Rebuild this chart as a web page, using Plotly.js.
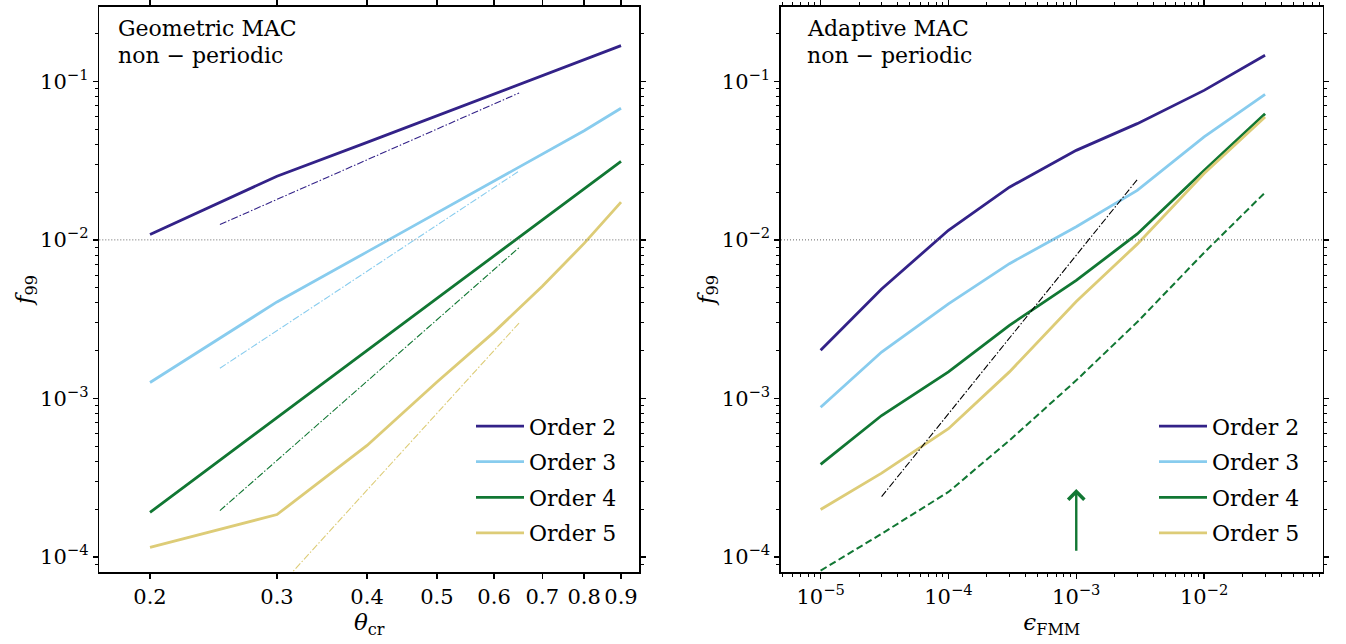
<!DOCTYPE html>
<html><head><meta charset="utf-8">
<script src="https://cdn.plot.ly/plotly-3.0.1.min.js"></script>
<style>html,body{margin:0;padding:0;background:#fff}#chart{width:1346px;height:644px}</style>
</head><body><div id="chart"></div>
<script>
// ---------- data ----------
const thetaCr = [0.2, 0.3, 0.4, 0.5, 0.6, 0.7, 0.8, 0.9];
const geoOrder2 = [0.0108, 0.0252, 0.0412, 0.0605, 0.0832, 0.108, 0.137, 0.168];
const geoOrder3 = [0.00126, 0.00406, 0.0084, 0.0148, 0.0236, 0.0348, 0.0488, 0.0676];
const geoOrder4 = [0.000191, 0.00076, 0.00201, 0.00428, 0.00792, 0.0133, 0.021, 0.0313];
const geoOrder5 = [0.000115, 0.000185, 0.000505, 0.00127, 0.00262, 0.0051, 0.0095, 0.0173];
const refTheta = [0.25, 0.65];
const refGeo2 = [0.0125, 0.0845];
const refGeo3 = [0.00155, 0.0272];
const refGeo4 = [0.000196, 0.00895];
const refGeo5 = [0.0000252, 0.00299];

const epsFMM = [1e-5, 3e-5, 1e-4, 3e-4, 1e-3, 3e-3, 1e-2, 3e-2];
const adOrder2 = [0.00201, 0.0049, 0.0115, 0.0215, 0.0367, 0.0541, 0.0877, 0.146];
const adOrder3 = [0.00088, 0.00196, 0.00395, 0.00708, 0.0121, 0.0205, 0.0446, 0.0828];
const adOrder4 = [0.000384, 0.00078, 0.00147, 0.00289, 0.00555, 0.0109, 0.0274, 0.0625];
const adOrder5 = [0.000199, 0.000338, 0.000644, 0.00147, 0.00409, 0.0094, 0.0262, 0.0596];
const adOrder4Dashed = [0.000082, 0.00014, 0.000257, 0.000543, 0.0013, 0.00303, 0.0083, 0.0199];
const refEps = [3e-5, 3e-3];
const refEpsVals = [0.00024, 0.024];
const arrowEps = 1e-3, arrowFrom = 0.000107, arrowTo = 0.000268;
const threshold = 0.01;

const seriesNames = ['Order 2', 'Order 3', 'Order 4', 'Order 5'];
const panelLabels = [['Geometric MAC', 'non − periodic'], ['Adaptive MAC', 'non − periodic']];
const yTickVals = [1e-4, 1e-3, 1e-2, 1e-1];
const yTickText = ['10<sup>−4</sup>', '10<sup>−3</sup>', '10<sup>−2</sup>', '10<sup>−1</sup>'];
const yMinorVals = [8e-5, 9e-5, 2e-4, 3e-4, 4e-4, 5e-4, 6e-4, 7e-4, 8e-4, 9e-4, 2e-3, 3e-3, 4e-3, 5e-3, 6e-3, 7e-3, 8e-3, 9e-3,
  2e-2, 3e-2, 4e-2, 5e-2, 6e-2, 7e-2, 8e-2, 9e-2, 2e-1];
const thetaTickVals = [0.2, 0.3, 0.4, 0.5, 0.6, 0.7, 0.8, 0.9];
const thetaTickText = ['0.2', '0.3', '0.4', '0.5', '0.6', '0.7', '0.8', '0.9'];
const epsTickVals = [1e-5, 1e-4, 1e-3, 1e-2];
const epsTickText = ['10<sup>−5</sup>', '10<sup>−4</sup>', '10<sup>−3</sup>', '10<sup>−2</sup>'];
const epsMinorVals = [5e-6, 6e-6, 7e-6, 8e-6, 9e-6, 2e-5, 3e-5, 4e-5, 5e-5, 6e-5, 7e-5, 8e-5, 9e-5,
  2e-4, 3e-4, 4e-4, 5e-4, 6e-4, 7e-4, 8e-4, 9e-4, 2e-3, 3e-3, 4e-3, 5e-3, 6e-3, 7e-3, 8e-3, 9e-3,
  2e-2, 3e-2, 4e-2, 5e-2, 6e-2, 7e-2, 8e-2];

// ---------- styles ----------
const colors = ['#332288', '#88CCEE', '#117733', '#DDCC77'];
const FONT = 'DejaVu Serif';
const L = Math.log10;

const geo = [geoOrder2, geoOrder3, geoOrder4, geoOrder5];
const geoRef = [refGeo2, refGeo3, refGeo4, refGeo5];
const ad = [adOrder2, adOrder3, adOrder4, adOrder5];

const traces = [];
geo.forEach((v, i) => traces.push({x: thetaCr, y: v, xaxis: 'x', yaxis: 'y', mode: 'lines', name: seriesNames[i],
  legend: 'legend', legendgroup: 'g' + i, line: {color: colors[i], width: 2.8}, hoverinfo: 'skip'}));
geoRef.forEach((v, i) => traces.push({x: refTheta, y: v, xaxis: 'x', yaxis: 'y', mode: 'lines', showlegend: false,
  line: {color: colors[i], width: 1.1, dash: '7px,2px,1.5px,2px'}, hoverinfo: 'skip'}));
ad.forEach((v, i) => traces.push({x: epsFMM, y: v, xaxis: 'x2', yaxis: 'y2', mode: 'lines', name: seriesNames[i],
  legend: 'legend2', legendgroup: 'h' + i, line: {color: colors[i], width: 2.8}, hoverinfo: 'skip'}));
traces.push({x: epsFMM, y: adOrder4Dashed, xaxis: 'x2', yaxis: 'y2', mode: 'lines', showlegend: false,
  line: {color: colors[2], width: 2, dash: '7px,3.5px'}, hoverinfo: 'skip'});
traces.push({x: refEps, y: refEpsVals, xaxis: 'x2', yaxis: 'y2', mode: 'lines', showlegend: false,
  line: {color: '#000', width: 1.1, dash: '7px,2px,1.5px,2px'}, hoverinfo: 'skip'});

const yRange = [-4.095, -0.531];
const xRange1 = [L(0.1701), L(0.9541)];
const xRange2 = [-5.31, -1.072];
const dom1 = [99.3 / 1346, 639.3 / 1346];
const dom2 = [781 / 1346, 1322.7 / 1346];

const tickFont = {family: FONT, size: 21, color: '#000'};
function baseAxis(extra) {
  return Object.assign({type: 'log', showgrid: false, zeroline: false, showline: true, linecolor: '#000', linewidth: 1.6,
    mirror: 'ticks', ticks: 'outside', ticklen: 5, tickwidth: 1.3, tickcolor: '#000', tickfont: tickFont,
    tickmode: 'array'}, extra);
}
function innerAxis(extra) {
  return Object.assign({type: 'log', showgrid: false, zeroline: false, showline: false, mirror: 'ticks',
    ticks: 'inside', ticklen: 5, tickwidth: 1.3, tickcolor: '#000', showticklabels: false, tickmode: 'array'}, extra);
}
const yMinorOut = {tickvals: yMinorVals, ticks: 'outside', ticklen: 3, tickwidth: 1, tickcolor: '#000'};
const yMinorIn = {tickvals: yMinorVals, ticks: 'inside', ticklen: 3, tickwidth: 1, tickcolor: '#000'};
const eMinorOut = {tickvals: epsMinorVals, ticks: 'outside', ticklen: 3, tickwidth: 1, tickcolor: '#000'};
const eMinorIn = {tickvals: epsMinorVals, ticks: 'inside', ticklen: 3, tickwidth: 1, tickcolor: '#000'};
const yTitle = {text: '<i>f</i><sub>99</sub>', font: {family: FONT, size: 23, color: '#000'}, standoff: 1};

const legendBase = {xanchor: 'left', xref: 'paper', yanchor: 'top', bgcolor: 'rgba(0,0,0,0)',
  font: {family: FONT, size: 22, color: '#000'}, tracegroupgap: 4, itemwidth: 48};
const labelFont = {family: FONT, size: 22, color: '#000'};

const annotations = [];
[['x domain', 'y domain', 0.03], ['x2 domain', 'y2 domain', 0.045]].forEach((p, k) => {
  panelLabels[k].forEach((t, j) => annotations.push({xref: p[0], yref: p[1], x: p[2], y: j === 0 ? 0.9623 : 0.9145,
    xanchor: 'left', yanchor: 'middle', align: 'left', showarrow: false, text: t, font: labelFont}));
});
annotations.push({xref: 'x2', yref: 'y2', axref: 'x2', ayref: 'y2', x: L(arrowEps), y: L(arrowTo), ax: L(arrowEps), ay: L(arrowFrom),
  showarrow: true, arrowhead: 4, arrowsize: 1.3, arrowwidth: 2.4, arrowcolor: colors[2], text: ''});

const layout = {
  width: 1346, height: 644, paper_bgcolor: '#fff', plot_bgcolor: '#fff',
  margin: {l: 0, r: 0, t: 7, b: 72}, showlegend: true, hovermode: false,
  font: {family: FONT, color: '#000'},
  xaxis: baseAxis({domain: dom1, anchor: 'y', range: xRange1, tickvals: thetaTickVals, ticktext: thetaTickText,
    title: {text: '<i>θ</i><sub>cr</sub>', font: {family: FONT, size: 23, color: '#000'}, standoff: 3}}),
  xaxis3: innerAxis({overlaying: 'x', anchor: 'y', range: xRange1, tickvals: thetaTickVals}),
  yaxis: baseAxis({domain: [0, 1], anchor: 'x', range: yRange, tickvals: yTickVals, ticktext: yTickText,
    minor: yMinorOut, title: yTitle}),
  yaxis3: innerAxis({overlaying: 'y', anchor: 'x', range: yRange, tickvals: yTickVals, minor: yMinorIn}),
  xaxis2: baseAxis({domain: dom2, anchor: 'y2', range: xRange2, tickvals: epsTickVals, ticktext: epsTickText,
    minor: eMinorOut,
    title: {text: '<i>ϵ</i><sub>FMM</sub>', font: {family: FONT, size: 23, color: '#000'}, standoff: 4}}),
  xaxis4: innerAxis({overlaying: 'x2', anchor: 'y2', range: xRange2, tickvals: epsTickVals, minor: eMinorIn}),
  yaxis2: baseAxis({domain: [0, 1], anchor: 'x2', range: yRange, tickvals: yTickVals, ticktext: yTickText,
    minor: yMinorOut, title: yTitle}),
  yaxis4: innerAxis({overlaying: 'y2', anchor: 'x2', range: yRange, tickvals: yTickVals, minor: yMinorIn}),
  legend: Object.assign({x: 471 / 1346, y: (571.7 - 405) / 565}, legendBase),
  legend2: Object.assign({x: 1154 / 1346, y: (571.7 - 405) / 565}, legendBase),
  shapes: [
    {type: 'line', xref: 'x domain', yref: 'y', x0: 0, x1: 1, y0: threshold, y1: threshold,
      line: {color: '#666', width: 1, dash: '1px,2px'}},
    {type: 'line', xref: 'x2 domain', yref: 'y2', x0: 0, x1: 1, y0: threshold, y1: threshold,
      line: {color: '#666', width: 1, dash: '1px,2px'}}
  ],
  annotations: annotations
};

Plotly.newPlot('chart', traces, layout, {staticPlot: true, displayModeBar: false});
</script>
</body></html>
